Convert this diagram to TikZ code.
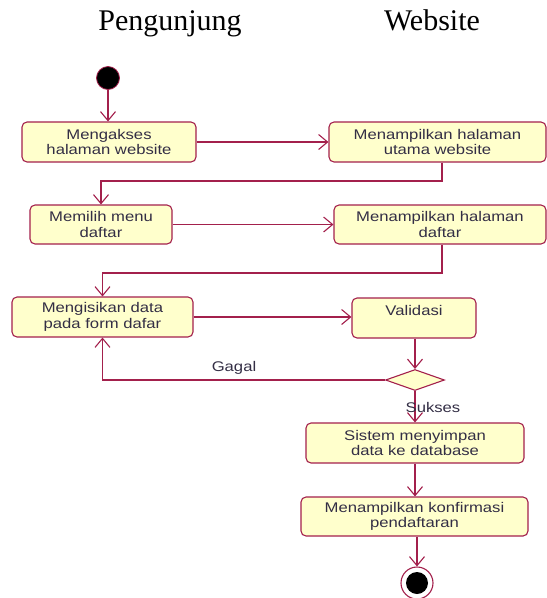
\documentclass[tikz,border=0pt]{standalone}
\usepackage{fontspec}
\setmainfont{Liberation Serif}
\newfontfamily\boxfont[FakeStretch=1.19]{Liberation Sans}
\usetikzlibrary{arrows.meta,shapes.geometric}
\definecolor{umlline}{HTML}{A3204C}
\definecolor{umlfill}{HTML}{FFFFCC}
\definecolor{umltext}{HTML}{332E45}
\begin{document}
\begin{tikzpicture}[x=1pt,y=-1pt,
  act/.style={draw=umlline, fill=umlfill, rounded corners=5pt, line width=1.1pt,
    inner sep=0pt, align=center, text=umltext,
    font=\boxfont\fontsize{14}{15.5}\selectfont},
  arr/.style={draw=umlline, line width=1.1pt, -{Straight Barb[length=9pt,width=15pt]}},
  lbl/.style={text=umltext, font=\boxfont\fontsize{14}{15.5}\selectfont, inner sep=0pt},
  ttl/.style={font=\fontsize{30}{34}\selectfont, inner sep=0pt, anchor=base}]
\useasboundingbox (0,0) rectangle (547,598);
\node[ttl] (t1) at (170,30) {Pengunjung};
\node[ttl] (t2) at (432,30) {Website};

\node[circle, fill=black, draw=umlline, line width=0.8pt, minimum size=23pt, inner sep=0pt] (start) at (108,78) {};

\node[act, minimum width=174pt, minimum height=40pt] (b1) at (109,142) {Mengakses\\halaman website};
\node[act, minimum width=217pt, minimum height=40pt] (b2) at (437.5,142) {Menampilkan halaman\\utama website};
\node[act, minimum width=142pt, minimum height=39pt] (b3) at (101,224.5) {Memilih menu\\daftar};
\node[act, minimum width=212pt, minimum height=39pt] (b4) at (440,224.5) {Menampilkan halaman\\daftar};
\node[act, minimum width=181pt, minimum height=40pt] (b5) at (102.5,317) {Mengisikan data\\pada form dafar};
\node[act, minimum width=124pt, minimum height=40pt] (val) at (414,318) {Validasi\\\mbox{}};
\node[diamond, draw=umlline, fill=umlfill, line width=1.1pt, inner sep=0pt, aspect=2.8,
  minimum width=59pt, minimum height=21pt] (dia) at (415,380) {};
\node[act, minimum width=218pt, minimum height=40pt] (b6) at (415,443) {Sistem menyimpan\\data ke database};
\node[act, minimum width=227pt, minimum height=39pt] (b7) at (414.5,516.5) {Menampilkan konfirmasi\\pendaftaran};
\node[circle, draw=umlline, fill=white, line width=1.1pt, minimum size=32pt, inner sep=0pt] (end) at (417,583) {};
\node[circle, fill=black, minimum size=22pt, inner sep=0pt] (endin) at (end.center) {};

\coordinate (k1) at (442,181);
\coordinate (k2) at (442,273);

\draw[arr] (start.south) -- (start.south |- b1.north);
\draw[arr] (b1.east) -- (b2.west);
\draw[arr] (b2.south -| k1) -- (k1) -| (b3.north);
\draw[arr] (b3.east) -- (b4.west);
\draw[arr] (b4.south -| k2) -- (k2) -| (b5.north);
\draw[arr] (b5.east) -- (b5.east -| val.west);
\draw[arr] (val.south -| dia.north) -- (dia.north);
\draw[arr] (dia.west) -| (b5.south);
\draw[arr] (dia.south) -- (b6.north -| dia.south);
\draw[arr] (b6.south) -- (b6.south |- b7.north);
\draw[arr] (b7.south -| end.north) -- (end.north);

\node[lbl] (gagal) at (234,368) {Gagal};
\node[lbl] (sukses) at (433,407) {Sukses};
\end{tikzpicture}
\end{document}
